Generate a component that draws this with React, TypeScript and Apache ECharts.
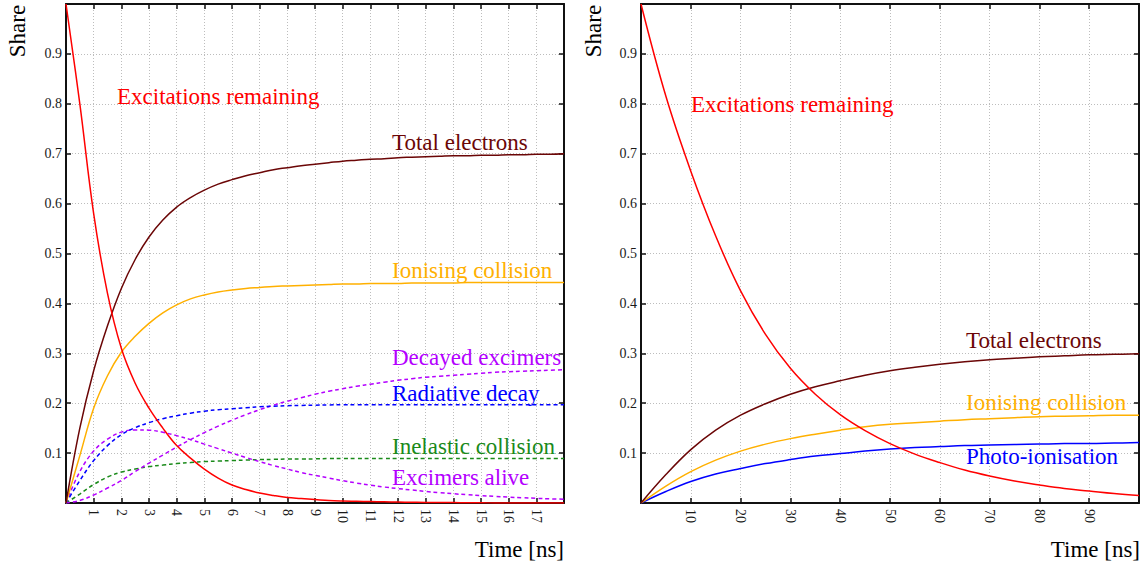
import React, { useEffect, useRef } from "react";
import * as echarts from "echarts";

// ---- Left panel: 0 – 18 ns, sampled every 0.5 ns ----
const leftTime = [0, 0.5, 1, 1.5, 2, 2.5, 3, 3.5, 4, 4.5, 5, 5.5, 6, 6.5, 7, 7.5, 8, 8.5, 9, 9.5, 10, 10.5, 11, 11.5, 12, 12.5, 13, 13.5, 14, 14.5, 15, 15.5, 16, 16.5, 17, 17.5, 18];
const leftExcitations = [1.0, 0.8, 0.58, 0.42, 0.31, 0.24, 0.19, 0.15, 0.115, 0.09, 0.068, 0.05, 0.036, 0.027, 0.02, 0.015, 0.011, 0.009, 0.007, 0.005, 0.004, 0.0035, 0.003, 0.0025, 0.002, 0.0015, 0.001, 0.001, 0.001, 0.0005, 0.0005, 0, 0, 0, 0, 0, 0];
const leftTotal = [0, 0.15, 0.265, 0.355, 0.43, 0.488, 0.533, 0.567, 0.593, 0.612, 0.627, 0.639, 0.648, 0.656, 0.662, 0.668, 0.672, 0.676, 0.679, 0.682, 0.685, 0.687, 0.689, 0.69, 0.692, 0.693, 0.694, 0.695, 0.696, 0.696, 0.697, 0.697, 0.698, 0.698, 0.699, 0.699, 0.7];
const leftIonising = [0, 0.095, 0.19, 0.255, 0.302, 0.334, 0.36, 0.381, 0.397, 0.409, 0.417, 0.423, 0.427, 0.43, 0.432, 0.434, 0.435, 0.436, 0.437, 0.438, 0.439, 0.439, 0.44, 0.44, 0.44, 0.441, 0.441, 0.441, 0.441, 0.442, 0.442, 0.442, 0.442, 0.442, 0.442, 0.442, 0.442];
const leftDecayed = [0, 0.005, 0.016, 0.03, 0.045, 0.063, 0.08, 0.096, 0.112, 0.127, 0.141, 0.154, 0.166, 0.177, 0.187, 0.196, 0.204, 0.211, 0.218, 0.224, 0.229, 0.234, 0.238, 0.242, 0.246, 0.249, 0.252, 0.254, 0.256, 0.258, 0.26, 0.262, 0.263, 0.264, 0.265, 0.266, 0.267];
const leftRadiative = [0, 0.045, 0.085, 0.115, 0.137, 0.151, 0.161, 0.169, 0.175, 0.18, 0.184, 0.187, 0.189, 0.191, 0.193, 0.194, 0.195, 0.1955, 0.196, 0.1965, 0.197, 0.197, 0.197, 0.197, 0.197, 0.197, 0.197, 0.197, 0.197, 0.197, 0.197, 0.197, 0.197, 0.197, 0.197, 0.197, 0.197];
const leftInelastic = [0, 0.018, 0.037, 0.052, 0.062, 0.068, 0.073, 0.076, 0.079, 0.081, 0.083, 0.084, 0.085, 0.086, 0.087, 0.0875, 0.088, 0.088, 0.0885, 0.089, 0.089, 0.089, 0.089, 0.089, 0.089, 0.089, 0.089, 0.089, 0.089, 0.089, 0.089, 0.089, 0.089, 0.089, 0.089, 0.089, 0.089];
const leftAlive = [0, 0.063, 0.104, 0.128, 0.142, 0.1465, 0.146, 0.1417, 0.135, 0.127, 0.118, 0.109, 0.1, 0.091, 0.083, 0.075, 0.068, 0.061, 0.0554, 0.05, 0.0448, 0.04, 0.036, 0.032, 0.0289, 0.026, 0.0232, 0.0207, 0.0185, 0.0166, 0.0148, 0.0132, 0.0118, 0.0105, 0.0094, 0.0084, 0.0075];

// ---- Right panel: 0 – 100 ns, sampled every 5 ns ----
const rightTime = [0, 5, 10, 15, 20, 25, 30, 35, 40, 45, 50, 55, 60, 65, 70, 75, 80, 85, 90, 95, 100];
const rightExcitations = [1.0, 0.815, 0.665, 0.535, 0.425, 0.338, 0.27, 0.218, 0.177, 0.145, 0.119, 0.098, 0.081, 0.066, 0.054, 0.044, 0.036, 0.029, 0.024, 0.019, 0.015];
const rightTotal = [0, 0.057, 0.107, 0.146, 0.176, 0.199, 0.218, 0.233, 0.245, 0.256, 0.265, 0.272, 0.278, 0.283, 0.287, 0.29, 0.293, 0.295, 0.297, 0.298, 0.299];
const rightIonising = [0, 0.034, 0.063, 0.086, 0.104, 0.118, 0.129, 0.138, 0.146, 0.153, 0.158, 0.161, 0.164, 0.167, 0.169, 0.171, 0.173, 0.174, 0.175, 0.176, 0.176];
const rightPhoto = [0, 0.023, 0.043, 0.058, 0.069, 0.079, 0.087, 0.094, 0.099, 0.104, 0.108, 0.111, 0.113, 0.115, 0.116, 0.117, 0.118, 0.119, 0.119, 0.12, 0.121];

const FONT = "Liberation Serif, serif";
const RED = "#ff0000";
const DARK_RED = "#6b0606";
const ORANGE = "#ffb000";
const BLUE = "#0000ff";
const GREEN = "#1a8a1a";
const PURPLE = "#b400ff";
const FRAME = "#111111";

const pairs = (xs: number[], ys: number[]) => xs.map((x, i) => [x, ys[i]]);

function curve(name: string, xs: number[], ys: number[], color: string, idx: number, dashed = false) {
  return {
    name,
    type: "line",
    xAxisIndex: idx * 2,
    yAxisIndex: idx * 2,
    data: pairs(xs, ys),
    showSymbol: false,
    smooth: 0.4,
    lineStyle: { color, width: 1.5, type: dashed ? [4, 3] : "solid" },
    z: 3,
  };
}

function xAxes(gridIndex: number, max: number, interval: number) {
  const line = { show: true, onZero: false, lineStyle: { color: FRAME, width: 2 } };
  const tick = { show: true, inside: true, length: 5, lineStyle: { color: FRAME, width: 1.5 } };
  return [
    {
      type: "value", gridIndex, position: "bottom", min: 0, max, interval,
      axisLine: line, axisTick: tick,
      axisLabel: {
        rotate: -90, margin: 6, fontFamily: FONT, fontSize: 14, color: "#1a1a1a",
        formatter: (v: number) => (v <= 0 || v >= max ? "" : String(Math.round(v))),
      },
      splitLine: { show: true, lineStyle: { color: "#bdbdbd", width: 1, type: [1, 2] } },
    },
    {
      type: "value", gridIndex, position: "top", min: 0, max, interval,
      axisLine: line, axisTick: tick, axisLabel: { show: false }, splitLine: { show: false },
    },
  ];
}

function yAxes(gridIndex: number) {
  const line = { show: true, onZero: false, lineStyle: { color: FRAME, width: 2 } };
  const tick = { show: true, inside: true, length: 5, lineStyle: { color: FRAME, width: 1.5 } };
  return [
    {
      type: "value", gridIndex, position: "left", min: 0, max: 1, interval: 0.1,
      axisLine: line, axisTick: tick,
      axisLabel: {
        margin: 4, fontFamily: FONT, fontSize: 14, color: "#1a1a1a",
        formatter: (v: number) => (v <= 0.001 || v >= 0.999 ? "" : v.toFixed(1)),
      },
      splitLine: { show: true, lineStyle: { color: "#bdbdbd", width: 1, type: [1, 2] } },
    },
    {
      type: "value", gridIndex, position: "right", min: 0, max: 1, interval: 0.1,
      axisLine: line, axisTick: tick, axisLabel: { show: false }, splitLine: { show: false },
    },
  ];
}

function label(text: string, x: number, y: number, fill: string, rotation = 0, align = "left") {
  return {
    type: "text",
    x,
    y,
    rotation,
    z: 10,
    style: { text, fill, font: `23px ${FONT}`, fontFamily: FONT, fontSize: 23, align, verticalAlign: "middle" },
  };
}

export default function App() {
  const ref = useRef<HTMLDivElement>(null);

  useEffect(() => {
    if (!ref.current) return;
    const chart = echarts.init(ref.current, undefined, { renderer: "svg" });
    chart.setOption({
      animation: false,
      backgroundColor: "#ffffff",
      textStyle: { fontFamily: FONT },
      grid: [
        { left: 66, top: 4, width: 498, height: 499 },
        { left: 641, top: 4, width: 498, height: 499 },
      ],
      xAxis: [...xAxes(0, 18, 1), ...xAxes(1, 100, 10)],
      yAxis: [...yAxes(0), ...yAxes(1)],
      series: [
        curve("Inelastic collision", leftTime, leftInelastic, GREEN, 0, true),
        curve("Excimers alive", leftTime, leftAlive, PURPLE, 0, true),
        curve("Decayed excimers", leftTime, leftDecayed, PURPLE, 0, true),
        curve("Radiative decay", leftTime, leftRadiative, BLUE, 0, true),
        curve("Ionising collision", leftTime, leftIonising, ORANGE, 0),
        curve("Total electrons", leftTime, leftTotal, DARK_RED, 0),
        curve("Excitations remaining", leftTime, leftExcitations, RED, 0),
        curve("Photo-ionisation", rightTime, rightPhoto, BLUE, 1),
        curve("Ionising collision", rightTime, rightIonising, ORANGE, 1),
        curve("Total electrons", rightTime, rightTotal, DARK_RED, 1),
        curve("Excitations remaining", rightTime, rightExcitations, RED, 1),
      ],
      graphic: [
        label("Share", 17, 31, "#000000", Math.PI / 2, "center"),
        label("Share", 593, 31, "#000000", Math.PI / 2, "center"),
        label("Time [ns]", 564, 549, "#000000", 0, "right"),
        label("Time [ns]", 1140, 549, "#000000", 0, "right"),
        label("Excitations remaining", 117, 96, RED),
        label("Total electrons", 392, 142, DARK_RED),
        label("Ionising collision", 392, 270, ORANGE),
        label("Decayed excimers", 392, 357, PURPLE),
        label("Radiative decay", 392, 393, BLUE),
        label("Inelastic collision", 392, 446, GREEN),
        label("Excimers alive", 392, 477, PURPLE),
        label("Excitations remaining", 691, 104, RED),
        label("Total electrons", 966, 340, DARK_RED),
        label("Ionising collision", 966, 402, ORANGE),
        label("Photo-ionisation", 966, 456, BLUE),
      ],
    });
    return () => chart.dispose();
  }, []);

  return (
    <div
      ref={ref}
      style={{ position: "fixed", left: 0, top: 0, width: 1147, height: 567, background: "#fff" }}
    />
  );
}
